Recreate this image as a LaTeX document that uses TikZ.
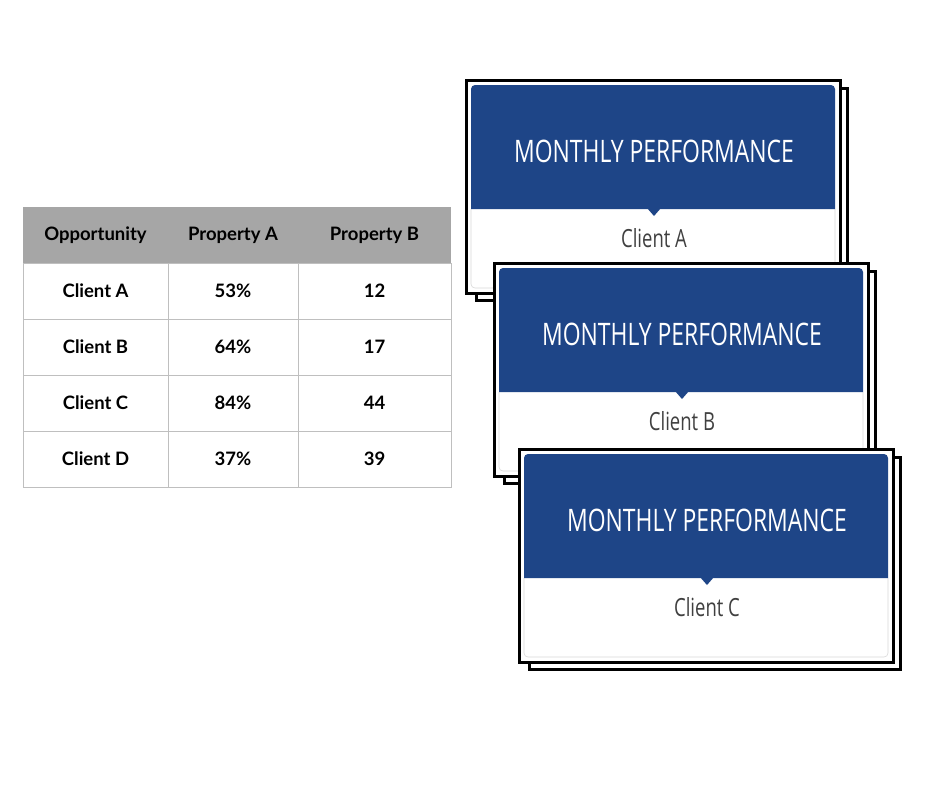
\documentclass[tikz,border=0pt]{standalone}
\usepackage{fontspec}
\setmainfont{Lato}
\newfontfamily\cardfont[FakeStretch=0.74]{Open Sans}
\begin{document}
\begin{tikzpicture}[x=1pt,y=-1pt,
  cell/.style={draw=black!25,line width=1pt},
  ttext/.style={font=\fontsize{18.5}{20}\selectfont\bfseries},
  frame/.style={draw=black,line width=3pt,fill=white},
  blue/.style={fill={rgb,255:red,30;green,69;blue,135}},
  title/.style={font=\cardfont\fontsize{31}{34}\selectfont,text=white},
  client/.style={font=\cardfont\fontsize{25}{28}\selectfont,text=black!75}]
\useasboundingbox (0,0) rectangle (940,788);
% table
\fill[black!35] (23,207) rectangle (451,263);
\foreach \y in {263,319,375,431}{\draw[cell] (23,\y) rectangle (451,\y+56);}
\foreach \x in {168,298}{\draw[cell] (\x,263) -- (\x,487);}
\draw[cell] (23,263) -- (23,487);
\node[ttext] (h1) at (95.5,235) {Opportunity};
\node[ttext] (h2) at (233,235) {Property A};
\node[ttext] (h3) at (374.5,235) {Property B};
\foreach \n/\a/\b [count=\i] in {Client A/53\%/12,Client B/64\%/17,Client C/84\%/44,Client D/37\%/39}{
  \node[ttext] (r\i a) at (95.5,235+56*\i) {\n};
  \node[ttext] (r\i b) at (233,235+56*\i) {\a};
  \node[ttext] (r\i c) at (374.5,235+56*\i) {\b};
}
% cards
\foreach \cx/\cy/\c [count=\k] in {466/80/A,494/263/B,519/449/C}{
  \draw[frame] (\cx+10,\cy+8) rectangle (\cx+381,\cy+220);
  \draw[frame] (\cx,\cy) rectangle (\cx+374,\cy+213);
  \draw[black!15,line width=0.6pt,rounded corners=4pt] (\cx+5,\cy+129) -- (\cx+5,\cy+208) -- (\cx+369,\cy+208) -- (\cx+369,\cy+129);
  \fill[blue] (\cx+5,\cy+129) [rounded corners=4pt] -- (\cx+5,\cy+5) -- (\cx+369,\cy+5) [sharp corners] -- (\cx+369,\cy+129) -- cycle;
  \fill[blue] (\cx+181,\cy+128) -- (\cx+195,\cy+128) -- (\cx+188,\cy+136) -- cycle;
  \node[title] (t\k) at (\cx+188,\cy+71) {MONTHLY PERFORMANCE};
  \node[client] (c\k) at (\cx+188,\cy+158) {Client \c};
}
\end{tikzpicture}
\end{document}
